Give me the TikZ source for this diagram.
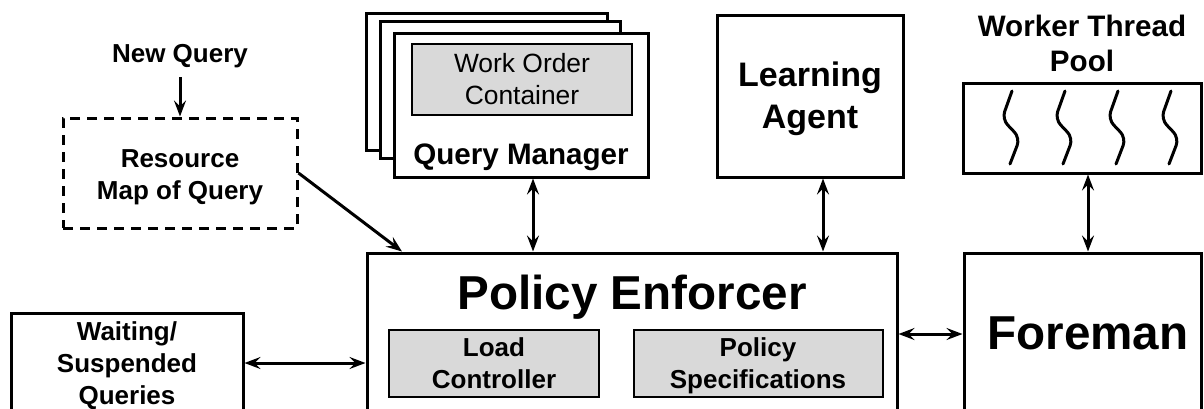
\documentclass[tikz,border=0pt]{standalone}
\usepackage{fontspec}
\setmainfont{Liberation Sans}
\usetikzlibrary{arrows.meta,fit}
\definecolor{boxgray}{HTML}{D9D9D9}
\tikzset{
  box/.style={draw, line width=1.5pt, inner sep=0pt, fill=white},
  graybox/.style={box, fill=boxgray, line width=1.3pt},
  dashbox/.style={draw, line width=1.5pt, dash pattern=on 5pt off 3.5pt, inner sep=0pt},
  lbl/.style={inner sep=0pt, align=center, font=\fontsize{13}{16}\selectfont\bfseries},
  midlbl/.style={inner sep=0pt, align=center, font=\fontsize{14.8}{17.5}\selectfont\bfseries},
  biglbl/.style={inner sep=0pt, align=center, font=\fontsize{17}{21}\selectfont\bfseries},
  hugelbl/.style={inner sep=0pt, align=center, font=\fontsize{23.8}{28}\selectfont\bfseries},
  plainlbl/.style={inner sep=0pt, align=center, font=\fontsize{13.2}{16}\selectfont},
  tip/.tip={Stealth[length=8pt,width=6pt,inset=3pt]},
  link/.style={line width=1.5pt, tip-tip},
  feed/.style={line width=1.5pt, -tip},
  thread/.style={line width=1.5pt, line cap=round, rounded corners=4pt},
}
\begin{document}
\begin{tikzpicture}[x=0.5pt, y=-0.5pt]
\useasboundingbox (0,0) rectangle (1204,408);

% --- incoming query and its resource map
\node[lbl] (newq) at (180,56) {New Query};
\node[dashbox, fit={(63,118) (297,228)}] (resmap) {};
\node[lbl] (resmaptxt) at (180,177) {Resource\\Map of Query};

% --- stack of query managers
\node[box, fit={(366,13) (607,150)}] (qm3) {};
\node[box, fit={(380,21) (620,158)}] (qm2) {};
\node[box, fit={(394,33) (648,177)}] (qm) {};
\node[graybox, fit={(412,44) (632,115)}] (woc) {};
\node[plainlbl] (woctxt) at (522,79) {Work Order\\Container};
\node[midlbl] (qmtxt) at (521,157) {Query Manager};

% --- learning agent
\node[box, fit={(717,15) (903,177)}] (la) {};
\node[biglbl] (latxt) at (810,99) {Learning\\Agent};

% --- worker thread pool
\node[midlbl] (pooltxt) at (1082,43) {Worker Thread\\Pool};
\node[box, fit={(963,83) (1201,173)}] (pool) {};
\foreach \x in {1012,1065,1118,1171}{
  \draw[thread] (\x,91) -- (\x-10,119) -- (\x+8,138) -- (\x-2,164);
}

% --- policy enforcer
\node[box, fit={(367,253) (897,420)}] (pe) {};
\node[hugelbl] (petxt) at (632,297) {Policy Enforcer};
\node[graybox, fit={(389,330) (599,397)}] (lc) {};
\node[lbl] (lctxt) at (494,363) {Load\\Controller};
\node[graybox, fit={(634,330) (883,397)}] (ps) {};
\node[lbl] (pstxt) at (758,366) {Policy\\Specifications};

% --- foreman
\node[box, fit={(964,253) (1201,420)}] (fore) {};
\node[hugelbl] (foretxt) at (1088,333) {Foreman};

% --- waiting / suspended queries
\node[box, fit={(11,313) (243,420)}] (wait) {};
\node[lbl] (waittxt) at (127,366) {Waiting/\\Suspended\\Queries};

% --- connectors
\draw[feed] (newq.south) ++(0,9) -- (resmap.north);
\draw[feed] (resmap.east) -- (402,0 |- pe.north);
\draw[link] (533,0 |- qm.south) -- (533,0 |- pe.north);
\draw[link] (823,0 |- la.south) -- (823,0 |- pe.north);
\draw[link] (pool.south -| foretxt) -- (fore.north -| foretxt);
\draw[link] (pe.east |- 0,334) -- (fore.west |- 0,334);
\draw[link] (wait.east |- 0,363) -- (pe.west |- 0,363);
\end{tikzpicture}
\end{document}
